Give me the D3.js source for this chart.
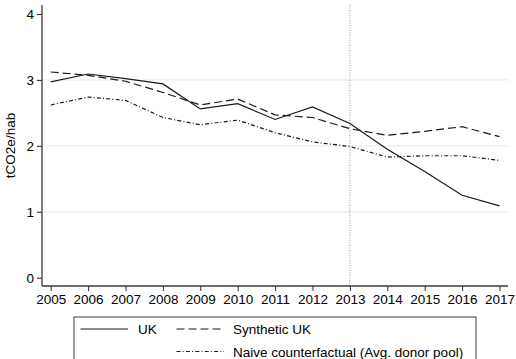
<!DOCTYPE html>
<html>
<head>
<meta charset="utf-8">
<script src="https://cdn.jsdelivr.net/npm/d3@7"></script>
<style>
  html, body { margin: 0; padding: 0; background: #fff; }
  svg { display: block; font-family: "Liberation Sans", Arial, sans-serif; }
</style>
</head>
<body>
<svg id="chart" width="516" height="359"></svg>
<script>
// Per-capita emissions, tCO2e per inhabitant
const years = [2005, 2006, 2007, 2008, 2009, 2010, 2011, 2012, 2013, 2014, 2015, 2016, 2017];
const ukValues = [2.97, 3.09, 3.02, 2.94, 2.56, 2.64, 2.40, 2.59, 2.34, 1.95, 1.61, 1.25, 1.09];
const syntheticValues = [3.12, 3.07, 2.98, 2.81, 2.62, 2.71, 2.47, 2.43, 2.26, 2.16, 2.22, 2.29, 2.14];
const naiveValues = [2.62, 2.74, 2.69, 2.43, 2.32, 2.39, 2.20, 2.06, 1.99, 1.83, 1.85, 1.85, 1.78];
const yTicks = [0, 1, 2, 3, 4];
const gridValues = [1, 2, 3];
const treatmentYear = 2013;
const seriesNames = ["UK", "Synthetic UK", "Naive counterfactual (Avg. donor pool)"];

const svg = d3.select("#chart");
const fontSize = 13.5;
const ink = "#1a1a1a";
const axisColor = "#3a3a3a";

const plot = { left: 42, right: 508, top: 5, bottom: 286 };
const x = d3.scaleLinear().domain([2005, 2017]).range([50.7, 499.5]);
const y = d3.scaleLinear().domain([0, 4]).range([277.7, 14]);

// gridlines
svg.append("g").selectAll("line").data(gridValues).join("line")
  .attr("x1", plot.left).attr("x2", plot.right)
  .attr("y1", d => y(d)).attr("y2", d => y(d))
  .attr("stroke", "#e9f0f0").attr("stroke-width", 1.2);

// reference year
svg.append("line")
  .attr("x1", x(treatmentYear)).attr("x2", x(treatmentYear))
  .attr("y1", plot.top).attr("y2", plot.bottom)
  .attr("stroke", "#8a8a8a").attr("stroke-width", 0.9)
  .attr("stroke-dasharray", "1,1.5");

// y axis
const yAxis = svg.append("g").attr("transform", `translate(${plot.left},0)`)
  .call(d3.axisLeft(y).tickValues(yTicks).tickFormat(d3.format("d")).tickSize(5).tickPadding(3));
yAxis.select(".domain").remove();
svg.append("line").attr("x1", plot.left).attr("x2", plot.left)
  .attr("y1", plot.top).attr("y2", plot.bottom)
  .attr("stroke", axisColor).attr("stroke-width", 1.3);

// x axis
const xAxis = svg.append("g").attr("transform", `translate(0,${plot.bottom})`)
  .call(d3.axisBottom(x).tickValues(years).tickFormat(d3.format("d")).tickSize(5).tickPadding(3));
xAxis.select(".domain").remove();
svg.append("line").attr("x1", plot.left).attr("x2", plot.right)
  .attr("y1", plot.bottom).attr("y2", plot.bottom)
  .attr("stroke", axisColor).attr("stroke-width", 1.3);

svg.selectAll(".tick line").attr("stroke", axisColor).attr("stroke-width", 1.1);
svg.selectAll(".tick text").attr("fill", "#000")
  .style("font-size", fontSize + "px").style("font-family", '"Liberation Sans", Arial, sans-serif');

// y axis title
svg.append("text")
  .attr("transform", `translate(15,${(plot.top + plot.bottom) / 2}) rotate(-90)`)
  .attr("text-anchor", "middle")
  .style("font-size", fontSize + "px").attr("fill", "#000")
  .text("tCO2e/hab");

// series
const styles = [
  { values: ukValues, dash: null },
  { values: syntheticValues, dash: "8,4" },
  { values: naiveValues, dash: "4,2.2,1,2.2" }
];
const line = d3.line().x(d => x(d[0])).y(d => y(d[1]));
styles.forEach(s => {
  svg.append("path")
    .datum(years.map((yr, i) => [yr, s.values[i]]))
    .attr("d", line)
    .attr("fill", "none").attr("stroke", ink).attr("stroke-width", 1.2)
    .attr("stroke-dasharray", s.dash);
});

// legend
const legend = svg.append("g");
legend.append("rect")
  .attr("x", 74).attr("y", 317).attr("width", 402).attr("height", 60)
  .attr("fill", "#fff").attr("stroke", axisColor).attr("stroke-width", 1);
const legendItems = [
  { name: seriesNames[0], dash: styles[0].dash, x1: 80.5, x2: 128, tx: 138, ly: 329 },
  { name: seriesNames[1], dash: styles[1].dash, x1: 176.5, x2: 224, tx: 233, ly: 329 },
  { name: seriesNames[2], dash: styles[2].dash, x1: 176.5, x2: 224, tx: 233, ly: 351.5 }
];
legendItems.forEach(it => {
  legend.append("line")
    .attr("x1", it.x1).attr("x2", it.x2).attr("y1", it.ly).attr("y2", it.ly)
    .attr("stroke", ink).attr("stroke-width", 1.2).attr("stroke-dasharray", it.dash);
  legend.append("text")
    .attr("x", it.tx).attr("y", it.ly + 5)
    .style("font-size", fontSize + "px").attr("fill", "#000")
    .text(it.name);
});
</script>
</body>
</html>
